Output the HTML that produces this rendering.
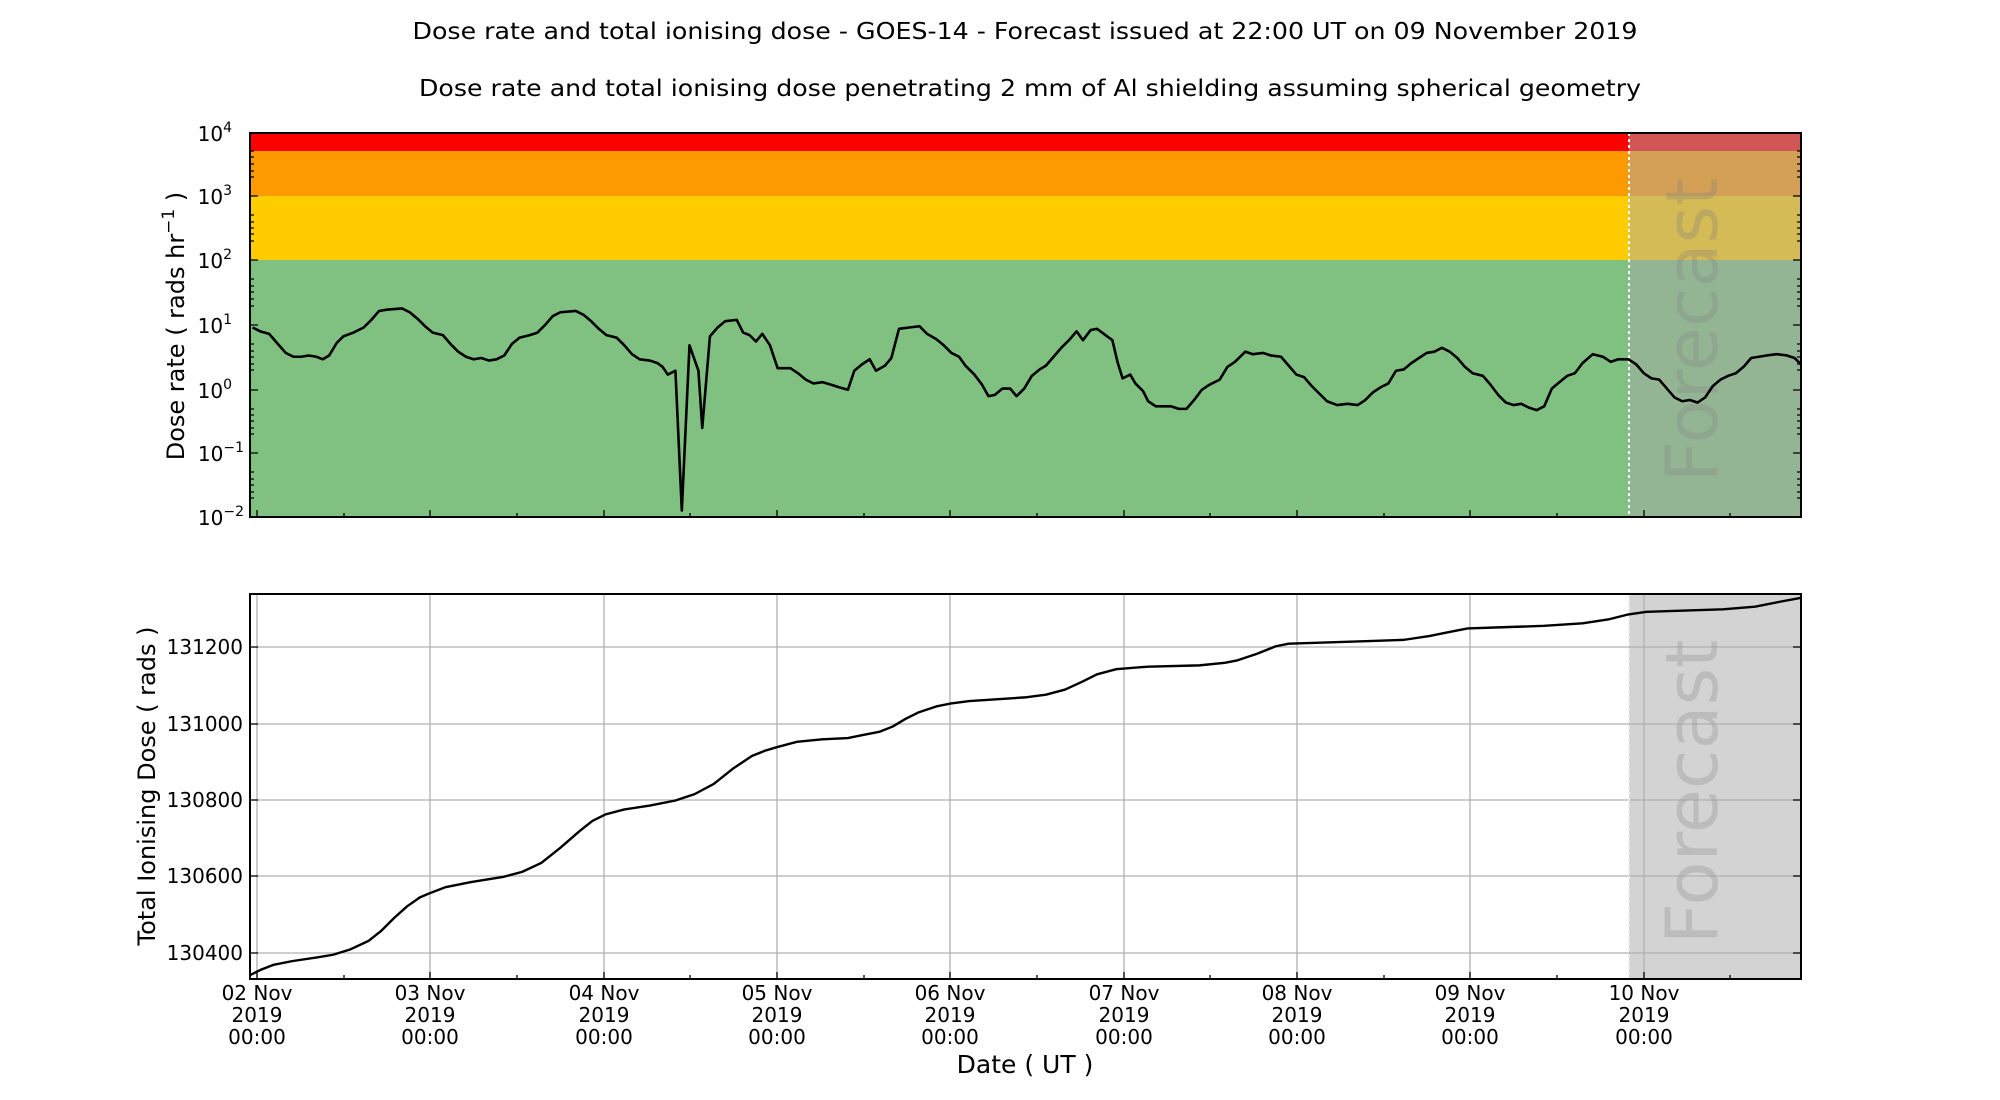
<!DOCTYPE html>
<html><head><meta charset="utf-8"><style>
html,body{margin:0;padding:0;background:#fff;}
svg{display:block;font-family:"DejaVu Sans","Liberation Sans",sans-serif;}
</style></head><body>
<svg width="2000" height="1100" viewBox="0 0 2000 1100" xmlns="http://www.w3.org/2000/svg">
<!-- titles -->
<text x="1025" y="39" font-size="23" text-anchor="middle" textLength="1225" lengthAdjust="spacingAndGlyphs">Dose rate and total ionising dose - GOES-14 - Forecast issued at 22:00 UT on 09 November 2019</text>
<text x="1030" y="96" font-size="23" text-anchor="middle" textLength="1222" lengthAdjust="spacingAndGlyphs">Dose rate and total ionising dose penetrating 2 mm of Al shielding assuming spherical geometry</text>

<!-- TOP PLOT bands -->
<rect x="250" y="133" width="1379" height="18" fill="#ff0000"/>
<rect x="250" y="151" width="1379" height="45" fill="#fd9a00"/>
<rect x="250" y="196" width="1379" height="64" fill="#ffcc00"/>
<rect x="250" y="260" width="1379" height="257" fill="#80c080"/>
<rect x="1629" y="133" width="172" height="18" fill="#d35656"/>
<rect x="1629" y="151" width="172" height="45" fill="#d4a055"/>
<rect x="1629" y="196" width="172" height="64" fill="#d4bb55"/>
<rect x="1629" y="260" width="172" height="257" fill="#94b594"/>
<text transform="translate(1717,330) rotate(-90)" font-size="72" text-anchor="middle" fill="#808080" fill-opacity="0.3">Forecast</text>
<line x1="1629" y1="133" x2="1629" y2="517" stroke="#fff" stroke-width="2" stroke-dasharray="3,3"/>

<g transform="matrix(1.2776,0,0,1.2715,-1.7,2)">
<polyline fill="none" stroke="#000" stroke-width="2.6" vector-effect="non-scaling-stroke" stroke-linejoin="round" points="199,256 205,259 212,261 218,268 225,276 231,279 237,279 243,278 249,279 254,281 259,278 265,268 270,263 278,260 286,256 292,250 298,243 304,242 316,241 322,244 328,249 334,255 340,260 348,262 354,269 360,275 366,279 372,281 378,280 384,282 390,281 396,278 402,269 408,264 416,262 422,260 428,254 434,247 440,244 452,243 458,246 464,251 470,257 476,262 484,264 490,270 496,277 502,281 510,282 516,284 520,287 524,293 530,290 535,400 541,270 548,290 551,335 557,263 563,256 569,251 578,250 583,260 588,262 593,267 598,261 604,270 610,288 620,288 626,292 632,297 638,300 645,299 652,301 658,303 665,305 670,290 676,285 682,281 687,290 694,286 699,280 705,257 713,256 721,255 727,261 734,265 740,270 746,276 752,279 757,286 764,293 770,301 775,310 780,309 786,304 792,304 797,310 803,304 809,294 815,289 820,286 826,279 832,272 838,266 844,259 849,266 855,258 860,257 868,263 872,266 876,283 880,296 886,293 890,300 896,306 900,314 906,318 912,318 918,318 924,320 930,320 936,313 942,305 948,301 956,297 962,287 968,283 976,275 982,277 990,276 996,278 1004,279 1010,286 1016,293 1022,295 1028,302 1034,308 1040,314 1048,317 1056,316 1064,317 1070,313 1076,307 1082,303 1088,300 1094,290 1100,289 1106,284 1112,280 1118,276 1124,275 1130,272 1136,275 1142,280 1148,287 1154,292 1162,294 1168,301 1174,309 1180,315 1186,317 1192,316 1198,319 1204,321 1210,318 1216,304 1222,299 1228,294 1234,292 1240,284 1248,277 1256,279 1262,283 1268,281 1276,281 1282,285 1288,292 1294,296 1300,297 1306,304 1312,311 1318,314 1324,313 1330,315 1336,311 1342,302 1348,297 1354,294 1360,292 1366,287 1372,280 1384,278 1392,277 1400,278 1406,280 1411,285"/>
</g>
<rect x="250" y="133" width="1551" height="384" fill="none" stroke="#000" stroke-width="2"/>
<g stroke="#000" stroke-width="1.3">
<path d="M250,133h8M250,196h8M250,260h8M250,325h8M250,390h8M250,453h8M250,517h8M1801,133h-8M1801,196h-8M1801,260h-8M1801,325h-8M1801,390h-8M1801,453h-8M1801,517h-8"/>
<path d="M250,151h4M250,157h4M250,164h4M250,171h4M250,177h4M250,215h4M250,222h4M250,228h4M250,234h4M250,241h4M250,279h4M250,286h4M250,292h4M250,299h4M250,306h4M250,344h4M250,351h4M250,357h4M250,364h4M250,370h4M250,409h4M250,415h4M250,421h4M250,428h4M250,434h4M250,472h4M250,479h4M250,485h4M250,492h4M250,498h4"/>
<path d="M1801,151h-4M1801,157h-4M1801,164h-4M1801,171h-4M1801,177h-4M1801,215h-4M1801,222h-4M1801,228h-4M1801,234h-4M1801,241h-4M1801,279h-4M1801,286h-4M1801,292h-4M1801,299h-4M1801,306h-4M1801,344h-4M1801,351h-4M1801,357h-4M1801,364h-4M1801,370h-4M1801,409h-4M1801,415h-4M1801,421h-4M1801,428h-4M1801,434h-4M1801,472h-4M1801,479h-4M1801,485h-4M1801,492h-4M1801,498h-4"/>
<path d="M257,517v-7M430,517v-7M604,517v-7M777,517v-7M950,517v-7M1124,517v-7M1297,517v-7M1470,517v-7M1644,517v-7M344,517v-4M517,517v-4M690,517v-4M864,517v-4M1037,517v-4M1210,517v-4M1384,517v-4M1557,517v-4M1730,517v-4"/>
</g>
<g font-size="20" text-anchor="end">
<text x="232" y="141">10<tspan dy="-9" font-size="14">4</tspan></text>
<text x="232" y="204">10<tspan dy="-9" font-size="14">3</tspan></text>
<text x="232" y="268">10<tspan dy="-9" font-size="14">2</tspan></text>
<text x="232" y="333">10<tspan dy="-9" font-size="14">1</tspan></text>
<text x="232" y="398">10<tspan dy="-9" font-size="14">0</tspan></text>
<text x="244" y="461">10<tspan dy="-9" font-size="14">−1</tspan></text>
<text x="244" y="525">10<tspan dy="-9" font-size="14">−2</tspan></text>
</g>
<text transform="translate(184,326) rotate(-90)" font-size="24" text-anchor="middle">Dose rate ( rads hr<tspan dy="-10" font-size="17">−1</tspan><tspan dy="10"> )</tspan></text>

<!-- BOTTOM PLOT -->
<rect x="1629" y="594" width="172" height="385" fill="#d3d3d3"/>
<g stroke="#b0b0b0" stroke-width="1.3">
<path d="M250,647H1801M250,724H1801M250,800H1801M250,876H1801M250,953H1801"/>
<path d="M257,594V979M430,594V979M604,594V979M777,594V979M950,594V979M1124,594V979M1297,594V979M1470,594V979M1644,594V979"/>
</g>
<line x1="1629" y1="594" x2="1629" y2="979" stroke="#eee" stroke-width="2" stroke-dasharray="3,3"/>
<text transform="translate(1717,792) rotate(-90)" font-size="72" text-anchor="middle" fill="#a0a0a0" fill-opacity="0.45">Forecast</text>
<g transform="matrix(1.2776,0,0,1.2748,-1.7,1.2)">
<polyline fill="none" stroke="#000" stroke-width="2.4" vector-effect="non-scaling-stroke" stroke-linejoin="round" points="197,764 205,760 215,756 230,753 250,750 262,748 275,744 290,737 300,729 310,719 320,710 330,703 337,700 350,695 370,691 395,687 410,683 425,676 440,664 455,651 465,643 475,638 490,634 510,631 530,627 545,622 560,614 575,602 590,592 600,588 610,585 625,581 645,579 665,578 675,576 690,573 700,569 710,563 720,558 735,553 745,551 760,549 790,547 805,546 820,544 835,540 848,534 860,528 875,524 900,522 940,521 960,519 970,517 985,512 1000,506 1010,504 1040,503 1070,502 1100,501 1120,498 1135,495 1150,492 1180,491 1210,490 1240,488 1260,485 1276,481 1290,479 1320,478 1350,477 1375,475 1395,471 1411,468"/>
</g>
<rect x="250" y="594" width="1551" height="385" fill="none" stroke="#000" stroke-width="2"/>
<g stroke="#000" stroke-width="1.3">
<path d="M250,647h8M250,724h8M250,800h8M250,876h8M250,953h8M1801,647h-8M1801,724h-8M1801,800h-8M1801,876h-8M1801,953h-8"/>
<path d="M257,979v-7M430,979v-7M604,979v-7M777,979v-7M950,979v-7M1124,979v-7M1297,979v-7M1470,979v-7M1644,979v-7M344,979v-4M517,979v-4M690,979v-4M864,979v-4M1037,979v-4M1210,979v-4M1384,979v-4M1557,979v-4M1730,979v-4"/>
</g>
<g font-size="20" text-anchor="end">
<text x="243" y="654">131200</text>
<text x="243" y="731">131000</text>
<text x="243" y="807">130800</text>
<text x="243" y="883">130600</text>
<text x="243" y="960">130400</text>
</g>
<text transform="translate(155,786) rotate(-90)" font-size="24" text-anchor="middle">Total Ionising Dose ( rads )</text>
<g font-size="20" text-anchor="middle">
<text x="257" y="1000">02 Nov</text><text x="257" y="1022">2019</text><text x="257" y="1044">00:00</text>
<text x="430" y="1000">03 Nov</text><text x="430" y="1022">2019</text><text x="430" y="1044">00:00</text>
<text x="604" y="1000">04 Nov</text><text x="604" y="1022">2019</text><text x="604" y="1044">00:00</text>
<text x="777" y="1000">05 Nov</text><text x="777" y="1022">2019</text><text x="777" y="1044">00:00</text>
<text x="950" y="1000">06 Nov</text><text x="950" y="1022">2019</text><text x="950" y="1044">00:00</text>
<text x="1124" y="1000">07 Nov</text><text x="1124" y="1022">2019</text><text x="1124" y="1044">00:00</text>
<text x="1297" y="1000">08 Nov</text><text x="1297" y="1022">2019</text><text x="1297" y="1044">00:00</text>
<text x="1470" y="1000">09 Nov</text><text x="1470" y="1022">2019</text><text x="1470" y="1044">00:00</text>
<text x="1644" y="1000">10 Nov</text><text x="1644" y="1022">2019</text><text x="1644" y="1044">00:00</text>
</g>
<text x="1025" y="1073" font-size="25" text-anchor="middle">Date ( UT )</text>
</svg>
</body></html>
